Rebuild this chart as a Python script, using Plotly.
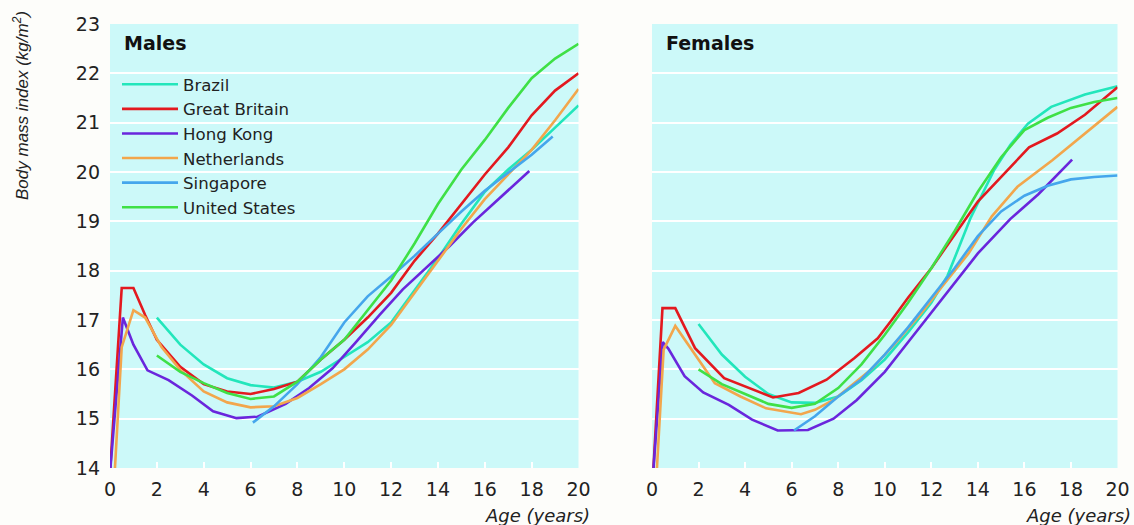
import plotly.graph_objects as go

# ---------------- data ----------------
countries = ["Brazil", "Great Britain", "Hong Kong", "Netherlands", "Singapore", "United States"]
colors = ["#22e6bb", "#e3191f", "#6a26dc", "#f2a64c", "#45a6ec", "#3fe046"]

# Males
brazil_m_age = [2, 3, 4, 5, 6, 7, 8, 9, 10, 11, 12, 13, 14, 15, 16, 17, 18, 19, 20]
brazil_m_bmi = [17.05, 16.5, 16.1, 15.82, 15.68, 15.63, 15.75, 15.95, 16.25, 16.55, 16.95, 17.6, 18.25, 18.95, 19.6, 20.05, 20.45, 20.9, 21.35]

gb_m_age = [0, 0.5, 1, 1.5, 2, 3, 4, 5, 6, 7, 8, 9, 10, 11, 12, 13, 14, 15, 16, 17, 18, 19, 20]
gb_m_bmi = [13.9, 17.65, 17.65, 17.1, 16.6, 16.05, 15.7, 15.55, 15.5, 15.6, 15.75, 16.2, 16.6, 17.05, 17.55, 18.2, 18.75, 19.35, 19.95, 20.5, 21.15, 21.65, 22.0]

hk_m_age = [0, 0.55, 1, 1.6, 2.5, 3.5, 4.4, 5.4, 6.3, 7.5, 8.5, 9.5, 10.5, 11.5, 12.5, 13.5, 14.5, 15.5, 16.5, 17.9]
hk_m_bmi = [13.9, 17.05, 16.5, 15.98, 15.78, 15.47, 15.15, 15.01, 15.04, 15.3, 15.62, 16.02, 16.55, 17.1, 17.62, 18.05, 18.5, 18.98, 19.42, 20.02]

nl_m_age = [0.2, 0.5, 1, 1.5, 2.2, 3, 4, 5, 6, 7, 8, 9, 10, 11, 12, 13, 14, 15, 16, 17, 18, 19, 20]
nl_m_bmi = [13.9, 16.45, 17.2, 17.05, 16.45, 15.99, 15.55, 15.33, 15.23, 15.25, 15.42, 15.7, 16.0, 16.4, 16.9, 17.55, 18.2, 18.85, 19.45, 19.95, 20.45, 21.05, 21.68]

sg_m_age = [6.1, 7, 8, 9, 10, 11, 12, 13, 14, 15, 16, 17, 18, 18.9]
sg_m_bmi = [14.92, 15.25, 15.7, 16.25, 16.95, 17.48, 17.88, 18.3, 18.75, 19.2, 19.62, 19.98, 20.35, 20.72]

us_m_age = [2, 3, 4, 5, 6, 7, 8, 9, 10, 11, 12, 13, 14, 15, 16, 17, 18, 19, 20]
us_m_bmi = [16.28, 15.95, 15.72, 15.52, 15.4, 15.45, 15.75, 16.2, 16.6, 17.2, 17.8, 18.55, 19.35, 20.05, 20.65, 21.3, 21.9, 22.3, 22.6]

# Females
brazil_f_age = [2, 3, 4, 5, 6, 7, 8, 9, 10, 11, 12, 12.7, 13.7, 14.7, 15.4, 16.15, 17.15, 18.6, 20]
brazil_f_bmi = [16.92, 16.3, 15.85, 15.5, 15.33, 15.32, 15.45, 15.78, 16.2, 16.75, 17.35, 17.9, 19.08, 20.04, 20.55, 20.98, 21.32, 21.57, 21.74]

gb_f_age = [0.05, 0.45, 1.0, 1.85, 3.1, 5.2, 6.3, 7.5, 8.7, 9.7, 10.3, 11, 12, 13, 14, 15.4, 16.2, 17.4, 18.6, 20]
gb_f_bmi = [13.9, 17.24, 17.24, 16.43, 15.82, 15.43, 15.52, 15.79, 16.23, 16.63, 17.0, 17.45, 18.05, 18.72, 19.4, 20.1, 20.5, 20.78, 21.16, 21.72]

hk_f_age = [0.05, 0.46, 0.7, 1.4, 2.2, 3.3, 4.3, 5.4, 6.7, 7.8, 8.8, 10, 11, 12, 13, 14, 15.4, 16.6, 18.05]
hk_f_bmi = [13.9, 16.55, 16.42, 15.86, 15.53, 15.28, 14.98, 14.76, 14.77, 15.0, 15.38, 15.95, 16.55, 17.15, 17.75, 18.35, 19.05, 19.55, 20.25]

nl_f_age = [0.2, 0.5, 1.0, 1.8, 2.7, 3.8, 4.9, 6.4, 7, 7.8, 9.4, 10.5, 11.5, 12.5, 13.6, 14.6, 15.7, 17.2, 18.6, 20]
nl_f_bmi = [13.9, 16.4, 16.88, 16.33, 15.72, 15.45, 15.21, 15.09, 15.18, 15.38, 15.99, 16.55, 17.1, 17.7, 18.35, 19.1, 19.7, 20.24, 20.78, 21.32]

sg_f_age = [6.1, 7, 8, 9, 10, 11, 12, 13, 14, 15, 16, 17, 18, 19, 20]
sg_f_bmi = [14.76, 15.05, 15.45, 15.8, 16.3, 16.85, 17.45, 18.05, 18.7, 19.2, 19.52, 19.72, 19.85, 19.9, 19.93]

us_f_age = [2, 3, 4, 5, 6, 7, 8, 9, 10, 11, 12, 13, 14, 15, 16, 17, 18, 19, 20]
us_f_bmi = [16.0, 15.7, 15.5, 15.3, 15.22, 15.3, 15.62, 16.1, 16.7, 17.35, 18.05, 18.8, 19.6, 20.3, 20.85, 21.1, 21.3, 21.42, 21.5]

x_ticks = [0, 2, 4, 6, 8, 10, 12, 14, 16, 18, 20]
y_ticks = [14, 15, 16, 17, 18, 19, 20, 21, 22, 23]

males = [(brazil_m_age, brazil_m_bmi), (gb_m_age, gb_m_bmi), (hk_m_age, hk_m_bmi),
         (nl_m_age, nl_m_bmi), (sg_m_age, sg_m_bmi), (us_m_age, us_m_bmi)]
females = [(brazil_f_age, brazil_f_bmi), (gb_f_age, gb_f_bmi), (hk_f_age, hk_f_bmi),
           (nl_f_age, nl_f_bmi), (sg_f_age, sg_f_bmi), (us_f_age, us_f_bmi)]

# ---------------- figure ----------------
W, H = 1134, 525
FONT = "DejaVu Sans, Liberation Sans, Arial, sans-serif"
NARROW = "Liberation Sans Narrow, Arial Narrow, Liberation Sans, Arial, sans-serif"

fig = go.Figure()
for name, col, (ax, ay) in zip(countries, colors, males):
    fig.add_trace(go.Scatter(x=ax, y=ay, mode="lines", name=name, legendgroup=name,
                             line=dict(color=col, width=2.6), xaxis="x", yaxis="y"))
for name, col, (ax, ay) in zip(countries, colors, females):
    fig.add_trace(go.Scatter(x=ax, y=ay, mode="lines", name=name, legendgroup=name,
                             showlegend=False,
                             line=dict(color=col, width=2.6), xaxis="x2", yaxis="y2"))

ydom = [1 - 468 / H, 1 - 24 / H]
xcommon = dict(range=[0, 20], tickvals=x_ticks, ticks="inside", ticklen=6, tickwidth=2,
               tickcolor="white", showgrid=False, zeroline=False, showline=False,
               automargin=False,
               tickfont=dict(size=19, color="#222", family=FONT), ticklabelstandoff=8)
ycommon = dict(range=[14, 23], tickvals=y_ticks, showgrid=True, gridcolor="white",
               gridwidth=2, zeroline=False, showline=False, ticks="", automargin=False,
               tickfont=dict(size=19, color="#222", family=FONT), domain=ydom)

fig.update_layout(
    width=W, height=H,
    margin=dict(l=0, r=0, t=0, b=0, autoexpand=False),
    paper_bgcolor="#fdfdfa",
    plot_bgcolor="#ccf9f9",
    font=dict(family=FONT, color="#222"),
    xaxis=dict(domain=[110 / W, 578.5 / W], anchor="y", **xcommon),
    yaxis=dict(anchor="x", ticklabelstandoff=9, **ycommon),
    xaxis2=dict(domain=[652 / W, 1117.5 / W], anchor="y2", **xcommon),
    yaxis2=dict(anchor="x2", showticklabels=False, **ycommon),
    legend=dict(x=117 / W, y=1 - 67 / H, xanchor="left", yanchor="top",
                bgcolor="rgba(0,0,0,0)", borderwidth=0, tracegroupgap=0,
                font=dict(size=16.6, color="#222", family=FONT), itemwidth=56),
    showlegend=True,
)

annos = [
    dict(text="<b>Males</b>", x=122 / W, y=1 - 43 / H, xanchor="left", yanchor="middle",
         font=dict(size=19, color="#111", family=FONT)),
    dict(text="<b>Females</b>", x=664 / W, y=1 - 43 / H, xanchor="left", yanchor="middle",
         font=dict(size=19, color="#111", family=FONT)),
    dict(text="<i>Body mass index (kg/m<sup>2</sup>)</i>", x=21 / W, y=1 - 106 / H,
         xanchor="center", yanchor="middle", textangle=-90,
         font=dict(size=17, color="#222", family=NARROW)),
    dict(text="<i>Age (years)</i>", x=592 / W, y=1 - 515 / H, xanchor="right", yanchor="middle",
         font=dict(size=18, color="#222", family=FONT)),
    dict(text="<i>Age (years)</i>", x=1133 / W, y=1 - 515 / H, xanchor="right", yanchor="middle",
         font=dict(size=18, color="#222", family=FONT)),
]
for a in annos:
    fig.add_annotation(xref="paper", yref="paper", showarrow=False, **a)

fig.write_html("out.html")
